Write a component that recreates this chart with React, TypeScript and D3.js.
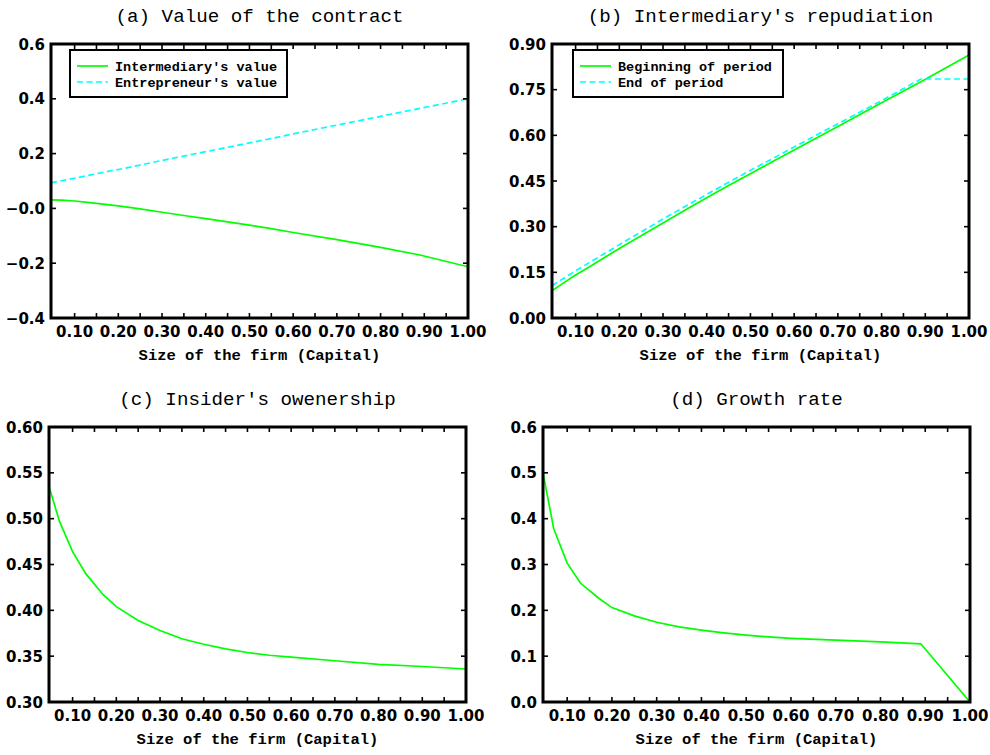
import React from 'react';
import { scaleLinear, line as d3Line, range } from 'd3';

// capital grid shared by all four panels
const capital = [0.046, 0.07, 0.1, 0.13, 0.17, 0.2, 0.25, 0.3, 0.35, 0.4, 0.45, 0.5, 0.55, 0.6, 0.7, 0.8, 0.89, 1.0];

// (a) value of the contract
const intermediaryValue = [0.031, 0.03, 0.027, 0.022, 0.015, 0.009, -0.002, -0.014, -0.026, -0.037, -0.049, -0.061, -0.074, -0.088, -0.114, -0.142, -0.17, -0.213];
const entrepreneurValue = [0.093, 0.101, 0.11, 0.12, 0.133, 0.142, 0.158, 0.175, 0.191, 0.207, 0.223, 0.239, 0.255, 0.272, 0.304, 0.336, 0.365, 0.4];

// (b) intermediary's repudiation
const beginningOfPeriod = [0.089, 0.113, 0.141, 0.167, 0.202, 0.228, 0.27, 0.312, 0.354, 0.395, 0.435, 0.474, 0.513, 0.552, 0.629, 0.707, 0.776, 0.864];
const endOfPeriod = [0.106, 0.128, 0.155, 0.181, 0.215, 0.241, 0.283, 0.325, 0.366, 0.406, 0.446, 0.485, 0.523, 0.562, 0.638, 0.714, 0.785, 0.785];

// (c) insider's ownership
const insiderOwnership = [0.535, 0.497, 0.464, 0.44, 0.417, 0.404, 0.389, 0.378, 0.369, 0.363, 0.358, 0.354, 0.351, 0.349, 0.345, 0.341, 0.339, 0.336];

// (d) growth rate
const growthRate = [0.5, 0.378, 0.303, 0.259, 0.227, 0.206, 0.188, 0.174, 0.164, 0.157, 0.151, 0.146, 0.142, 0.139, 0.135, 0.131, 0.127, 0.0];

const xTickLabels = ['0.10', '0.20', '0.30', '0.40', '0.50', '0.60', '0.70', '0.80', '0.90', '1.00'];
const yTicksA = ['0.6', '0.4', '0.2', '−0.0', '−0.2', '−0.4'];
const yTicksB = ['0.90', '0.75', '0.60', '0.45', '0.30', '0.15', '0.00'];
const yTicksC = ['0.60', '0.55', '0.50', '0.45', '0.40', '0.35', '0.30'];
const yTicksD = ['0.6', '0.5', '0.4', '0.3', '0.2', '0.1', '0.0'];

const GREEN = '#00ff00';
const CYAN = '#00ffff';
const MONO = '"Liberation Mono", "DejaVu Sans Mono", monospace';
const SANS = '"DejaVu Sans", "Liberation Sans", sans-serif';

interface Series {
  name: string;
  values: number[];
  color: string;
  dashed?: boolean;
}

interface PanelProps {
  title: string;
  left: number;
  right: number;
  top: number;
  bottom: number;
  yDomain: [number, number];
  yLabels: string[];
  series: Series[];
  legend?: { x: number; width: number };
}

const Panel: React.FC<PanelProps> = ({ title, left, right, top, bottom, yDomain, yLabels, series, legend }) => {
  const x = scaleLinear().domain([capital[0], 1.0]).range([left, right]);
  const y = scaleLinear().domain(yDomain).range([bottom, top]);
  const tickLen = 5;

  const minor = range(1, 20).map((i) => i * 0.05).filter((v) => x(v) - left > 3);
  const yVals = yLabels.map((_, i) => yDomain[1] - (i * (yDomain[1] - yDomain[0])) / (yLabels.length - 1));

  const lineGen = d3Line<number>()
    .x((_, i) => x(capital[i]))
    .y((d) => y(d));

  return (
    <g>
      <text x={(left + right) / 2} y={top - 22} textAnchor="middle" fontFamily={MONO} fontSize={19.2}>
        {title}
      </text>

      <defs>
        <clipPath id={`clip-${left}-${top}`}>
          <rect x={left} y={top} width={right - left} height={bottom - top} />
        </clipPath>
      </defs>

      <g clipPath={`url(#clip-${left}-${top})`}>
        {series.map((s) => (
          <path
            key={s.name}
            d={lineGen(s.values) || ''}
            fill="none"
            stroke={s.color}
            strokeWidth={1.7}
            strokeDasharray={s.dashed ? '6,3.5' : undefined}
          />
        ))}
      </g>

      {/* x ticks, inward on top and bottom */}
      {minor.map((v) => (
        <g key={v} stroke="#000" strokeWidth={1.6}>
          <line x1={x(v)} x2={x(v)} y1={bottom} y2={bottom - tickLen} />
          <line x1={x(v)} x2={x(v)} y1={top} y2={top + tickLen} />
        </g>
      ))}
      {xTickLabels.map((lab) => (
        <text
          key={lab}
          x={x(+lab)}
          y={bottom + 19}
          textAnchor="middle"
          fontFamily={SANS}
          fontWeight="bold"
          fontSize={15}
        >
          {lab}
        </text>
      ))}

      {/* y ticks, inward on left and right */}
      {yVals.map((v, i) => (
        <g key={i}>
          <line x1={left} x2={left + tickLen} y1={y(v)} y2={y(v)} stroke="#000" strokeWidth={1.6} />
          <line x1={right} x2={right - tickLen} y1={y(v)} y2={y(v)} stroke="#000" strokeWidth={1.6} />
          <text
            x={left - 6}
            y={y(v) + 5.5}
            textAnchor="end"
            fontFamily={SANS}
            fontWeight="bold"
            fontSize={15}
          >
            {yLabels[i]}
          </text>
        </g>
      ))}

      <rect x={left} y={top} width={right - left} height={bottom - top} fill="none" stroke="#000" strokeWidth={3} />

      <text
        x={(left + right) / 2}
        y={bottom + 42}
        textAnchor="middle"
        fontFamily={MONO}
        fontWeight="bold"
        fontSize={15.5}
      >
        Size of the firm (Capital)
      </text>

      {legend && (
        <g>
          <rect x={legend.x} y={top + 6} width={legend.width} height={47} fill="#fff" stroke="#000" strokeWidth={2} />
          {series.map((s, i) => (
            <g key={s.name}>
              <line
                x1={legend.x + 7}
                x2={legend.x + 38}
                y1={top + 22 + i * 16}
                y2={top + 22 + i * 16}
                stroke={s.color}
                strokeWidth={1.7}
                strokeDasharray={s.dashed ? '6,3.5' : undefined}
              />
              <text
                x={legend.x + 45}
                y={top + 27 + i * 16}
                fontFamily={MONO}
                fontWeight="bold"
                fontSize={13.5}
              >
                {s.name}
              </text>
            </g>
          ))}
        </g>
      )}
    </g>
  );
};

export default function App() {
  return (
    <svg
      width={990}
      height={755}
      style={{ position: 'absolute', left: 0, top: 0, background: '#fff' }}
    >
      <Panel
        title="(a) Value of the contract"
        left={51}
        right={468}
        top={44}
        bottom={318}
        yDomain={[-0.4, 0.6]}
        yLabels={yTicksA}
        legend={{ x: 70, width: 217 }}
        series={[
          { name: "Intermediary's value", values: intermediaryValue, color: GREEN },
          { name: "Entrepreneur's value", values: entrepreneurValue, color: CYAN, dashed: true },
        ]}
      />
      <Panel
        title="(b) Intermediary's repudiation"
        left={552}
        right={969}
        top={44}
        bottom={318}
        yDomain={[0, 0.9]}
        yLabels={yTicksB}
        legend={{ x: 573, width: 210 }}
        series={[
          { name: 'Beginning of period', values: beginningOfPeriod, color: GREEN },
          { name: 'End of period', values: endOfPeriod, color: CYAN, dashed: true },
        ]}
      />
      <Panel
        title="(c) Insider's owenership"
        left={49}
        right={466}
        top={427}
        bottom={702}
        yDomain={[0.3, 0.6]}
        yLabels={yTicksC}
        series={[{ name: "Insider's ownership", values: insiderOwnership, color: GREEN }]}
      />
      <Panel
        title="(d) Growth rate"
        left={543}
        right={970}
        top={427}
        bottom={702}
        yDomain={[0, 0.6]}
        yLabels={yTicksD}
        series={[{ name: 'Growth rate', values: growthRate, color: GREEN }]}
      />
    </svg>
  );
}
